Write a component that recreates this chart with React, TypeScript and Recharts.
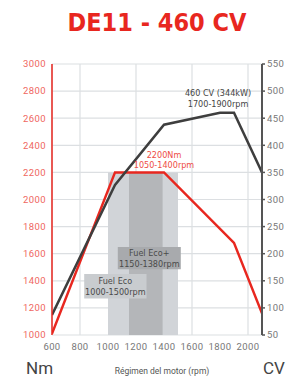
import React from 'react'
import {
  ComposedChart,
  Line,
  XAxis,
  YAxis,
  CartesianGrid,
  ReferenceArea,
  ReferenceDot,
} from 'recharts'

// rpm axis ticks
const rpmTicks = [600, 800, 1000, 1200, 1400, 1600, 1800, 2000]
const nmTicks = [1000, 1200, 1400, 1600, 1800, 2000, 2200, 2400, 2600, 2800, 3000]
const cvTicks = [50, 100, 150, 200, 250, 300, 350, 400, 450, 500, 550]

// torque curve (Nm)
const torqueRpm = [600, 1050, 1400, 1900, 2100]
const torqueNm = [1010, 2200, 2200, 1680, 1160]

// power curve (CV)
const powerRpm = [600, 1050, 1400, 1800, 1900, 2100]
const powerCv = [87, 327, 438, 460, 460, 350]

const torqueData = torqueRpm.map((rpm, i) => ({ rpm, nm: torqueNm[i] }))
const powerData = powerRpm.map((rpm, i) => ({ rpm, cv: powerCv[i] }))

const RED = '#e8271f'
const DARK = '#3e3e3e'
const NARROW = '"Liberation Sans Narrow", "DejaVu Sans Condensed", sans-serif'

// two line label centred in a box / on a point
const twoLines = (l1: string, l2: string, color: string, gap = 11) => (props: any) => {
  const vb = props.viewBox || {}
  const cx = vb.x + (vb.width || 0) / 2
  const cy = vb.y + (vb.height || 0) / 2
  return (
    <g>
      <text x={cx} y={cy - gap / 2} textAnchor="middle" dominantBaseline="central" fill={color} fontSize={9} fontFamily={NARROW}>
        {l1}
      </text>
      <text x={cx} y={cy + gap / 2} textAnchor="middle" dominantBaseline="central" fill={color} fontSize={9} fontFamily={NARROW}>
        {l2}
      </text>
    </g>
  )
}

export default function App() {
  return (
    <div style={{ position: 'absolute', left: 0, top: 0, width: 297, height: 378, background: '#fff', fontFamily: 'Roboto, sans-serif' }}>
      <div
        style={{
          position: 'absolute',
          left: 0,
          width: 314,
          top: 8,
          textAlign: 'center',
          fontFamily: '"DejaVu Sans Condensed", sans-serif',
          fontWeight: 700,
          fontSize: 25,
          color: RED,
          lineHeight: '30px',
        }}
      >
        DE11 - 460 CV
      </div>

      <ComposedChart width={297} height={378} margin={{ top: 64, right: 0, bottom: 0, left: 0 }}>
        <XAxis
          type="number"
          dataKey="rpm"
          domain={[600, 2100]}
          ticks={rpmTicks}
          allowDataOverflow
          axisLine={false}
          tickLine={false}
          height={43}
          tick={{ fill: '#777', fontSize: 9.5, letterSpacing: 0.4 }}
        />
        <YAxis
          yAxisId="nm"
          orientation="left"
          width={52}
          domain={[1000, 3000]}
          ticks={nmTicks}
          allowDataOverflow
          tickLine={false}
          tickMargin={0}
          axisLine={{ stroke: RED, strokeWidth: 1.5 }}
          tick={{ fill: '#ef6660', fontSize: 9.5, letterSpacing: 0.4 }}
        />
        <YAxis
          yAxisId="cv"
          orientation="right"
          width={35}
          domain={[50, 550]}
          ticks={cvTicks}
          allowDataOverflow
          tickSize={3}
          tickLine={{ stroke: '#555', strokeWidth: 1.5 }}
          axisLine={{ stroke: '#555', strokeWidth: 2 }}
          tick={{ fill: '#777', fontSize: 9.5, letterSpacing: 0.4 }}
        />

        {/* Fuel Eco bands */}
        <ReferenceArea yAxisId="nm" x1={1000} x2={1500} y1={1000} y2={2200} fill="#d1d4d8" fillOpacity={1} stroke="none" />
        <ReferenceArea yAxisId="nm" x1={1150} x2={1390} y1={1000} y2={2200} fill="#b4b6b9" fillOpacity={1} stroke="none" />

        <CartesianGrid yAxisId="nm" stroke="#dcdfe2" strokeWidth={1.2} />

        <ReferenceArea
          yAxisId="nm"
          x1={1070}
          x2={1520}
          y1={1485}
          y2={1650}
          fill="#a8aaad"
          fillOpacity={1}
          stroke="none"
          label={{ content: twoLines('Fuel Eco+', '1150-1380rpm', '#4a4a4a') }}
        />
        <ReferenceArea
          yAxisId="nm"
          x1={830}
          x2={1275}
          y1={1270}
          y2={1450}
          fill="#c9cccf"
          fillOpacity={1}
          stroke="none"
          label={{ content: twoLines('Fuel Eco', '1000-1500rpm', '#4a4a4a') }}
        />

        <Line data={torqueData} yAxisId="nm" dataKey="nm" type="linear" stroke={RED} strokeWidth={2.5} dot={false} isAnimationActive={false} />
        <Line data={powerData} yAxisId="cv" dataKey="cv" type="linear" stroke={DARK} strokeWidth={2.5} dot={false} isAnimationActive={false} />

        <ReferenceDot yAxisId="nm" x={1400} y={2290} r={0} fill="none" stroke="none" label={{ content: twoLines('2200Nm', '1050-1400rpm', '#ee4c45', 10) }} />
        <ReferenceDot yAxisId="nm" x={1786} y={2745} r={0} fill="none" stroke="none" label={{ content: twoLines('460 CV (344kW)', '1700-1900rpm', '#444', 11) }} />
      </ComposedChart>

      <div style={{ position: 'absolute', left: 26, top: 358, fontSize: 17, color: '#444', lineHeight: '20px' }}>Nm</div>
      <div style={{ position: 'absolute', left: 263, top: 358, fontSize: 17, color: '#444', lineHeight: '20px' }}>CV</div>
      <div style={{ position: 'absolute', left: 60, width: 204, top: 365, textAlign: 'center', fontSize: 8.5, color: '#555', lineHeight: '12px' }}>
        Régimen del motor (rpm)
      </div>
    </div>
  )
}
